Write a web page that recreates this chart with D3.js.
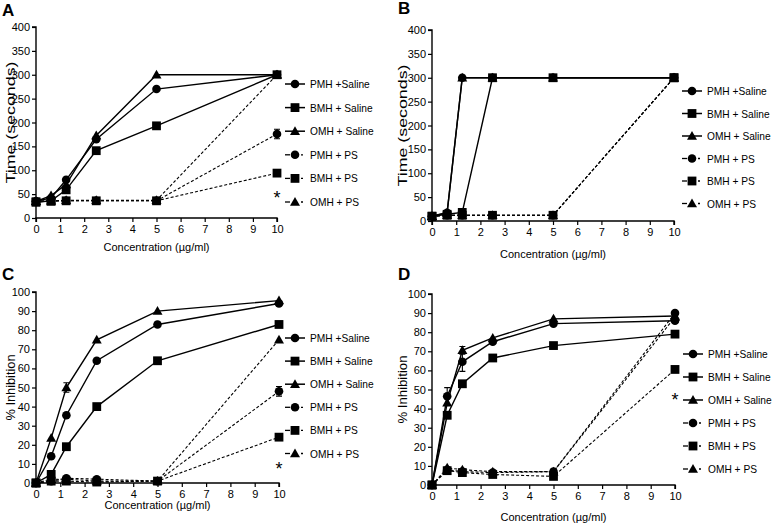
<!DOCTYPE html>
<html>
<head>
<meta charset="utf-8">
<script src="https://cdn.jsdelivr.net/npm/d3@7"></script>
<style>
  html, body { margin: 0; padding: 0; background: #fff; }
  svg { display: block; font-family: "Liberation Sans", Arial, sans-serif; }
</style>
</head>
<body>
<svg id="chart" width="773" height="525"></svg>
<script>
// ---------- data ----------
const concentrations = [0, 0.625, 1.25, 2.5, 5, 10];
const xTicks = [0, 1, 2, 3, 4, 5, 6, 7, 8, 9, 10];
const timeTicks = [0, 50, 100, 150, 200, 250, 300, 350, 400];
const inhibitionTicks = [0, 10, 20, 30, 40, 50, 60, 70, 80, 90, 100];

const seriesNames = ["PMH +Saline", "BMH + Saline", "OMH + Saline", "PMH + PS", "BMH + PS", "OMH + PS"];
const seriesShapes = ["circle", "square", "triangle", "circle", "square", "triangle"];
const seriesDashed = [false, false, false, true, true, true];

const panelLetters = ["A", "B", "C", "D"];
const xTitle = "Concentration (\u00b5g/ml)";
const yTitles = ["Time (seconds)", "Time (seconds)", "% Inhibition", "% Inhibition"];

// Panel A: time (s)
const aPMHSaline = [35, 42, 80, 165, 270, 300];
const aBMHSaline = [33, 36, 59, 141, 193, 300];
const aOMHSaline = [35, 47, 70, 173, 300, 300];
const aPMHPS     = [35, 36, 36, 36, 36, 176];
const aBMHPS     = [34, 35, 36, 36, 36, 94];
const aOMHPS     = [35, 36, 37, 37, 37, 300];
const aErrors = [[0,0,0,0,0,0],[0,0,0,0,0,0],[0,0,0,0,0,0],[0,0,0,0,0,10],[0,0,0,0,0,0],[0,0,0,0,0,0]];

// Panel B: time (s)
const bPMHSaline = [10, 17, 300, 300, 300, 300];
const bBMHSaline = [10, 14, 18, 300, 300, 300];
const bOMHSaline = [10, 18, 300, 300, 300, 300];
const bPMHPS     = [10, 12, 12, 12, 12, 300];
const bBMHPS     = [10, 12, 12, 12, 12, 300];
const bOMHPS     = [10, 12, 12, 12, 12, 300];
const bErrors = [[0,0,0,0,0,0],[0,0,0,0,0,0],[0,0,0,0,0,0],[0,0,0,0,0,0],[0,0,0,0,0,0],[0,0,0,0,0,0]];

// Panel C: % inhibition
const cPMHSaline = [0, 14, 35.5, 64, 83, 94];
const cBMHSaline = [0, 4.5, 19, 40, 64, 83];
const cOMHSaline = [0, 23.5, 50, 75, 90, 95.5];
const cPMHPS     = [0, 1, 2.5, 2, 1, 48];
const cBMHPS     = [0, 1, 1, 0.5, 1, 24];
const cOMHPS     = [0, 2, 2, 1, 1, 75];
const cErrors = [[0,0,0,0,0,0],[0,0,0,0,0,0],[0,0,2.5,0,0,0],[0,0,0,0,0,2.5],[0,0,0,0,0,0],[0,0,0,0,0,0]];

// Panel D: % inhibition
const dPMHSaline = [0, 46.5, 64.5, 75, 84.5, 86];
const dBMHSaline = [0, 36.5, 53, 66.5, 73, 79];
const dOMHSaline = [0, 43, 70.5, 77, 87, 88.5];
const dPMHPS     = [0, 8, 7, 6.5, 7, 90];
const dBMHPS     = [0, 7.5, 6.5, 5.5, 4.5, 60.5];
const dOMHPS     = [0, 9, 8, 7, 7, 88];
const dErrors = [[0,4.5,5,0,0,0],[0,0,0,0,0,0],[0,0,2,0,0,0],[0,0,0,0,0,0],[0,0,0,0,0,0],[0,0,0,0,0,0]];

// asterisk marks: [x concentration, y value]
const aAsterisk = [10, 52];
const cAsterisk = [10, 10];
const dAsterisk = [10, 47];

// ---------- drawing ----------
const svg = d3.select("#chart");
const FONT = "\"Liberation Sans\", Arial, sans-serif";

const panels = [
  { letter: panelLetters[0], yTitle: yTitles[0], yMax: 400, yTicks: timeTicks, yTitleSize: 13, yTitleLen: 122,
    values: [aPMHSaline, aBMHSaline, aOMHSaline, aPMHPS, aBMHPS, aOMHPS], errors: aErrors, asterisk: aAsterisk,
    x0: 36, x1: 277, yTop: 27, yBot: 218, letterPos: [2, 16], yTitleX: 15,
    legX: 295, legY: 84, legStep: 23.6, xLabelY: 235, xTitleY: 251 },
  { letter: panelLetters[1], yTitle: yTitles[1], yMax: 400, yTicks: timeTicks, yTitleSize: 13, yTitleLen: 122,
    values: [bPMHSaline, bBMHSaline, bOMHSaline, bPMHPS, bBMHPS, bOMHPS], errors: bErrors, asterisk: null,
    x0: 432, x1: 674, yTop: 30, yBot: 221, letterPos: [398, 14], yTitleX: 407,
    legX: 692, legY: 91, legStep: 22.5, xLabelY: 235, xTitleY: 258 },
  { letter: panelLetters[2], yTitle: yTitles[2], yMax: 100, yTicks: inhibitionTicks, yTitleSize: 12, yTitleLen: 66,
    values: [cPMHSaline, cBMHSaline, cOMHSaline, cPMHPS, cBMHPS, cOMHPS], errors: cErrors, asterisk: cAsterisk,
    x0: 36, x1: 279, yTop: 292, yBot: 483, letterPos: [2, 280], yTitleX: 15,
    legX: 295, legY: 338, legStep: 23.1, xLabelY: 492, xTitleY: 509 },
  { letter: panelLetters[3], yTitle: yTitles[3], yMax: 100, yTicks: inhibitionTicks, yTitleSize: 12, yTitleLen: 68,
    values: [dPMHSaline, dBMHSaline, dOMHSaline, dPMHPS, dBMHPS, dOMHPS], errors: dErrors, asterisk: dAsterisk,
    x0: 432, x1: 675, yTop: 294, yBot: 485, letterPos: [398, 280], yTitleX: 407,
    legX: 693, legY: 354, legStep: 23, xLabelY: 503, xTitleY: 521 }
];

function drawMarker(g, shape, cx, cy) {
  if (shape === "circle") {
    g.append("circle").attr("cx", cx).attr("cy", cy).attr("r", 4.3).attr("fill", "#000");
  } else if (shape === "square") {
    g.append("rect").attr("x", cx - 4.4).attr("y", cy - 4.4).attr("width", 8.8).attr("height", 8.8).attr("fill", "#000");
  } else {
    const s = 5;
    g.append("path").attr("d", `M${cx},${cy - s}L${cx + s},${cy + s * 0.75}L${cx - s},${cy + s * 0.75}Z`).attr("fill", "#000");
  }
}

panels.forEach(p => {
  const g = svg.append("g");
  const x = d3.scaleLinear().domain([0, 10]).range([p.x0, p.x1]);
  const y = d3.scaleLinear().domain([0, p.yMax]).range([p.yBot, p.yTop]);

  // axes
  const yAxis = d3.axisLeft(y).tickValues(p.yTicks).tickSize(4).tickPadding(2);
  const yg = g.append("g").attr("transform", `translate(${p.x0},0)`).call(yAxis);
  const xAxis = d3.axisBottom(x).tickValues(xTicks).tickSize(4).tickPadding(3);
  const xg = g.append("g").attr("transform", `translate(0,${p.yBot})`).call(xAxis);
  [yg, xg].forEach(a => {
    a.select(".domain").attr("stroke", "#000").attr("stroke-width", 1.4);
    a.selectAll(".tick line").attr("stroke", "#000").attr("stroke-width", 1.2);
    a.selectAll("text").attr("fill", "#000").style("font-size", "11px").style("font-family", FONT);
  });
  yg.select(".domain").attr("d", `M-4,${p.yTop}H0V${p.yBot}`);
  xg.select(".domain").attr("d", `M${p.x0},4V0H${p.x1}V4`);

  // panel letter
  g.append("text").attr("x", p.letterPos[0]).attr("y", p.letterPos[1])
    .text(p.letter).style("font-size", "17px").style("font-weight", "bold").style("font-family", FONT);

  // y title
  g.append("text")
    .attr("transform", `translate(${p.yTitleX},${(p.yTop + p.yBot) / 2}) rotate(-90)`)
    .attr("text-anchor", "middle").text(p.yTitle)
    .attr("textLength", p.yTitleLen).attr("lengthAdjust", "spacingAndGlyphs")
    .style("font-size", p.yTitleSize + "px").style("font-family", FONT);

  // x title
  g.append("text").attr("x", (p.x0 + p.x1) / 2).attr("y", p.xTitleY)
    .attr("text-anchor", "middle").text(xTitle)
    .style("font-size", "11px").style("font-family", FONT);

  const line = d3.line().x((d, i) => x(concentrations[i])).y(d => y(d));

  // draw dashed series first, then solid
  const order = [3, 4, 5, 0, 1, 2];
  order.forEach(si => {
    const vals = p.values[si];
    g.append("path").datum(vals).attr("d", line)
      .attr("fill", "none").attr("stroke", "#000")
      .attr("stroke-width", seriesDashed[si] ? 1.1 : 1.4)
      .attr("stroke-dasharray", seriesDashed[si] ? "3,2" : null);
    vals.forEach((v, i) => {
      const e = p.errors[si][i];
      if (e > 0) {
        const cx = x(concentrations[i]);
        g.append("path")
          .attr("d", `M${cx - 3},${y(v + e)}H${cx + 3}M${cx},${y(v + e)}V${y(v - e)}M${cx - 3},${y(v - e)}H${cx + 3}`)
          .attr("stroke", "#000").attr("stroke-width", 1.1).attr("fill", "none");
      }
      drawMarker(g, seriesShapes[si], x(concentrations[i]), y(v));
    });
  });

  // asterisk
  if (p.asterisk) {
    g.append("text").attr("x", x(p.asterisk[0])).attr("y", y(p.asterisk[1]) + 11)
      .attr("text-anchor", "middle").text("*")
      .style("font-size", "18px").style("font-family", FONT);
  }

  // legend
  seriesNames.forEach((name, si) => {
    const ly = p.legY + si * p.legStep;
    const lg = g.append("g");
    if (seriesDashed[si]) {
      lg.append("line").attr("x1", p.legX - 10).attr("x2", p.legX - 5).attr("y1", ly).attr("y2", ly)
        .attr("stroke", "#000").attr("stroke-width", 1.3);
      lg.append("line").attr("x1", p.legX + 6).attr("x2", p.legX + 8).attr("y1", ly).attr("y2", ly)
        .attr("stroke", "#000").attr("stroke-width", 1.3);
    } else {
      lg.append("line").attr("x1", p.legX - 10).attr("x2", p.legX + 10).attr("y1", ly).attr("y2", ly)
        .attr("stroke", "#000").attr("stroke-width", 1.5);
    }
    drawMarker(lg, seriesShapes[si], p.legX, ly);
    lg.append("text").attr("x", p.legX + 15).attr("y", ly + 4).text(name)
      .style("font-size", "10.2px").style("font-family", FONT);
  });
});
</script>
</body>
</html>
